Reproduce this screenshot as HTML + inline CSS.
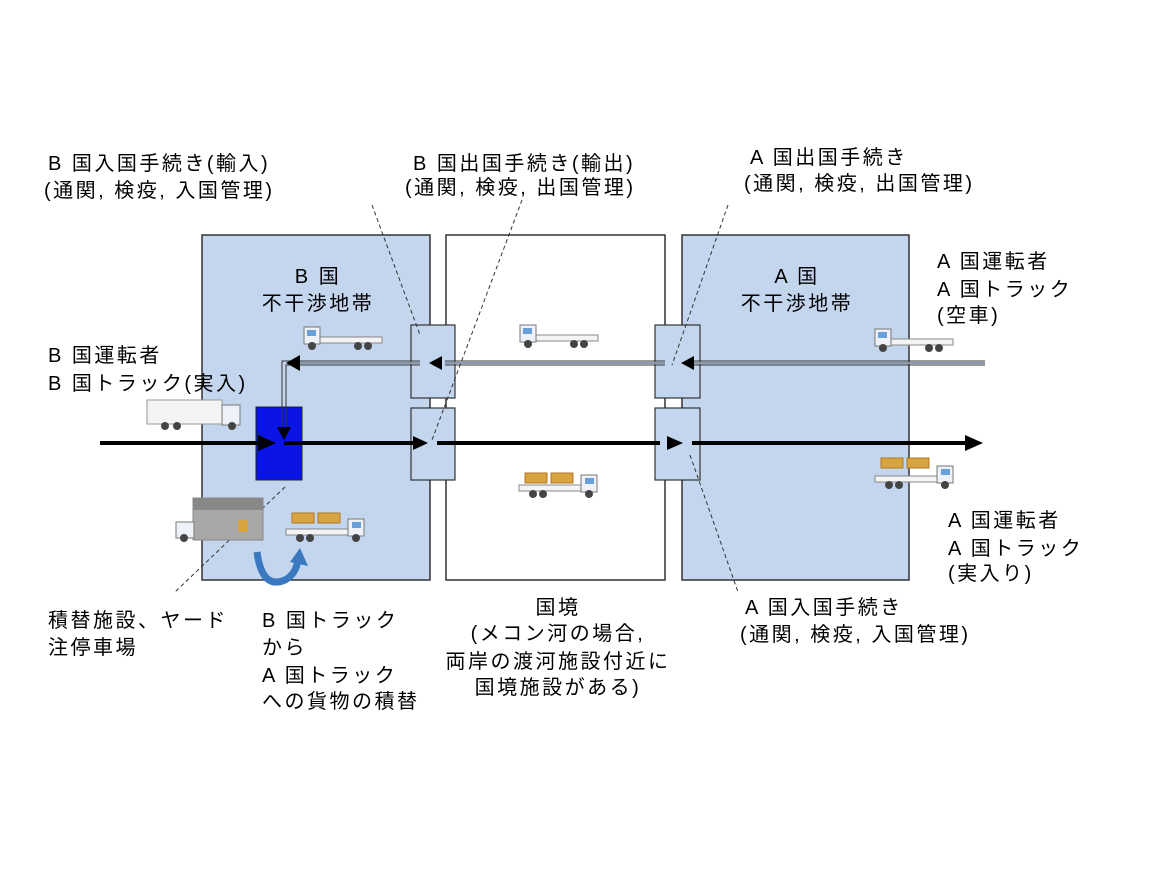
<!DOCTYPE html>
<html><head><meta charset="utf-8"><style>
html,body{margin:0;padding:0;background:#fff;}
svg text{font-family:"Liberation Sans","Noto Sans CJK JP",sans-serif;font-size:20px;letter-spacing:2.5px;fill:#000;}
</style></head><body>
<svg width="1152" height="864" viewBox="0 0 1152 864" xmlns="http://www.w3.org/2000/svg">
<defs>
<g id="truckR">
  <rect x="0" y="10" width="62" height="6" fill="#f4f4f4" stroke="#888" stroke-width="1"/>
  <rect x="62" y="0" width="16" height="17" fill="#eef2f8" stroke="#777" stroke-width="1"/>
  <rect x="66" y="3" width="9" height="6" fill="#6aa0d8"/>
  <circle cx="14" cy="19" r="4" fill="#444"/><circle cx="24" cy="19" r="4" fill="#444"/><circle cx="70" cy="19" r="4" fill="#444"/>
</g>
<g id="crate">
  <rect x="0" y="0" width="22" height="10" fill="#d9a440" stroke="#b07820" stroke-width="1"/>
</g>
</defs>

<rect x="202" y="235" width="228" height="345" fill="#c4d5ee" stroke="#333" stroke-width="1.5"/>
<rect x="446" y="235" width="219" height="345" fill="#fff" stroke="#333" stroke-width="1.5"/>
<rect x="682" y="235" width="227" height="345" fill="#c4d5ee" stroke="#333" stroke-width="1.5"/>

<rect x="411" y="325" width="44" height="73" fill="#c4d5ee" stroke="#333" stroke-width="1.2"/>
<rect x="411" y="408" width="44" height="72" fill="#c4d5ee" stroke="#333" stroke-width="1.2"/>
<rect x="655" y="325" width="45" height="73" fill="#c4d5ee" stroke="#333" stroke-width="1.2"/>
<rect x="655" y="408" width="45" height="72" fill="#c4d5ee" stroke="#333" stroke-width="1.2"/>

<rect x="256" y="407" width="46" height="73" fill="#0a14e6" stroke="#222" stroke-width="1"/>

<line x1="100" y1="443" x2="262" y2="443" stroke="#000" stroke-width="4"/>
<polygon points="258,435 276,443 258,451" fill="#000"/>
<line x1="284" y1="443" x2="415" y2="443" stroke="#000" stroke-width="4"/>
<polygon points="413,436 428,443 413,450" fill="#000"/>
<line x1="437" y1="443" x2="660" y2="443" stroke="#000" stroke-width="4"/>
<polygon points="667,436 683,443 667,450" fill="#000"/>
<line x1="692" y1="443" x2="968" y2="443" stroke="#000" stroke-width="4"/>
<polygon points="965,435 983,443 965,451" fill="#000"/>

<g stroke="#333" stroke-width="1" fill="none">
  <line x1="985" y1="361" x2="690" y2="361"/><line x1="985" y1="365" x2="690" y2="365"/>
  <line x1="665" y1="361" x2="445" y2="361"/><line x1="665" y1="365" x2="445" y2="365"/>
  <line x1="420" y1="361" x2="300" y2="361"/><line x1="420" y1="365" x2="300" y2="365"/>
  <polyline points="300,361 282,361 282,430"/><polyline points="300,365 286,365 286,430"/>
</g>
<line x1="985" y1="363" x2="690" y2="363" stroke="#8a9bb0" stroke-width="2"/>
<line x1="665" y1="363" x2="445" y2="363" stroke="#8a9bb0" stroke-width="2"/>
<line x1="420" y1="363" x2="300" y2="363" stroke="#8a9bb0" stroke-width="2"/>
<polygon points="694,356 681,363 694,370" fill="#000"/>
<polygon points="442,356 429,363 442,370" fill="#000"/>
<polygon points="300,355 286,363 300,371" fill="#000"/>
<polygon points="277,427 284,440 291,427" fill="#000"/>

<g stroke="#333" stroke-width="1" stroke-dasharray="4,3" fill="none">
  <line x1="372" y1="205" x2="420" y2="335"/>
  <line x1="522" y1="200" x2="432" y2="440"/>
  <line x1="728" y1="205" x2="672" y2="365"/>
  <line x1="690" y1="455" x2="738" y2="592"/>
  <line x1="285" y1="487" x2="175" y2="592"/>
</g>

<g transform="translate(382,327) scale(-1,1)"><use href="#truckR"/></g>
<g transform="translate(598,325) scale(-1,1)"><use href="#truckR"/></g>
<g transform="translate(953,329) scale(-1,1)"><use href="#truckR"/></g>
<rect x="147" y="400" width="75" height="24" fill="#f4f4f4" stroke="#999"/>
<rect x="222" y="405" width="18" height="20" fill="#eef2f8" stroke="#777"/>
<circle cx="165" cy="426" r="4" fill="#444"/><circle cx="177" cy="426" r="4" fill="#444"/><circle cx="232" cy="426" r="4" fill="#444"/>
<g transform="translate(519,475)"><use href="#truckR"/><use href="#crate" x="6" y="-2"/><use href="#crate" x="32" y="-2"/></g>
<g transform="translate(875,466)"><use href="#truckR"/><use href="#crate" x="6" y="-8"/><use href="#crate" x="32" y="-8"/></g>
<g transform="translate(286,519)"><use href="#truckR"/><use href="#crate" x="6" y="-6"/><use href="#crate" x="32" y="-6"/></g>
<rect x="193" y="498" width="70" height="42" fill="#a8a8a8" stroke="#888"/>
<rect x="193" y="498" width="70" height="12" fill="#888"/>
<rect x="238" y="520" width="10" height="12" fill="#d9a440"/>
<rect x="176" y="522" width="18" height="16" fill="#eef2f8" stroke="#777"/>
<circle cx="184" cy="538" r="4" fill="#444"/>
<path d="M257,552 Q262,590 285,580 Q296,574 298,560" stroke="#3a78c0" stroke-width="7" fill="none"/>
<polygon points="290,562 300,548 308,566" fill="#3a78c0"/>

<text x="48" y="170">B 国入国手続き(輸入)</text>
<text x="44" y="197">(通関, 検疫, 入国管理)</text>
<text x="413" y="170">B 国出国手続き(輸出)</text>
<text x="405" y="194">(通関, 検疫, 出国管理)</text>
<text x="750" y="164">A 国出国手続き</text>
<text x="744" y="190">(通関, 検疫, 出国管理)</text>
<text x="318" y="283" text-anchor="middle">B 国</text>
<text x="318" y="310" text-anchor="middle">不干渉地帯</text>
<text x="797" y="283" text-anchor="middle">A 国</text>
<text x="797" y="310" text-anchor="middle">不干渉地帯</text>
<text x="937" y="268">A 国運転者</text>
<text x="937" y="296">A 国トラック</text>
<text x="937" y="322">(空車)</text>
<text x="48" y="362">B 国運転者</text>
<text x="48" y="390">B 国トラック(実入)</text>
<text x="948" y="527">A 国運転者</text>
<text x="948" y="555">A 国トラック</text>
<text x="948" y="580">(実入り)</text>
<text x="48" y="627">積替施設、ヤード</text>
<text x="48" y="654">注停車場</text>
<text x="262" y="627">B 国トラック</text>
<text x="262" y="654">から</text>
<text x="262" y="682">A 国トラック</text>
<text x="262" y="708">への貨物の積替</text>
<text x="558" y="614" text-anchor="middle">国境</text>
<text x="558" y="640" text-anchor="middle">(メコン河の場合,</text>
<text x="558" y="668" text-anchor="middle">両岸の渡河施設付近に</text>
<text x="558" y="694" text-anchor="middle">国境施設がある)</text>
<text x="745" y="614">A 国入国手続き</text>
<text x="740" y="641">(通関, 検疫, 入国管理)</text>
</svg>
</body></html>
